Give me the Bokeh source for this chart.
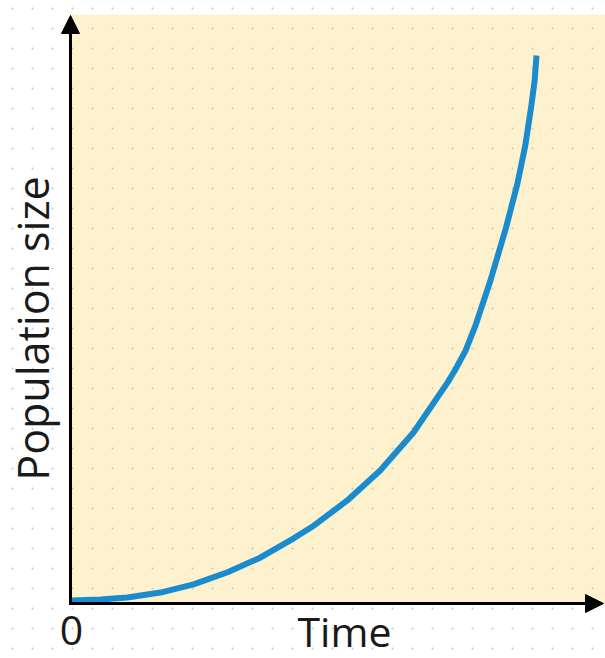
import numpy as np
from bokeh.plotting import figure
from bokeh.models import Range1d, BoxAnnotation, Arrow, NormalHead, Label
from bokeh.embed import file_html
from bokeh.resources import INLINE

# Data (arbitrary units, no tick values shown)
time = [0.02, 0.64, 1.22, 1.93, 2.64, 3.37, 4.08, 4.79, 5.22, 5.94, 6.65,
        7.36, 8.09, 8.26, 8.48, 8.69, 9.01, 9.34, 9.59, 9.76, 9.89, 9.96, 10.0]
population = [0.55, 0.73, 1.1, 2.0, 3.5, 5.7, 8.4, 11.9, 14.2, 18.8, 24.3,
              31.2, 40.3, 42.7, 46.2, 50.7, 58.9, 68.4, 76.6, 83.6, 90.9,
              95.4, 100.0]
x_label = "Time"
y_label = "Population size"
origin_label = "0"

W, H = 605, 658
OFF = 0                   # figure offset on the photographed picture
OX, OY = 70, 603          # origin of axes (picture pixels)
SX, SY = 46.6, 5.48       # pixels per data unit


def tx(px):
    return (px - OX) / SX


def ty(py):
    return (OY - py) / SY


p = figure(width=W, height=H, output_backend="svg", toolbar_location=None,
           x_axis_type=None, y_axis_type=None,
           x_range=Range1d(tx(OFF), tx(OFF + W)), y_range=Range1d(ty(OFF + H), ty(OFF)),
           min_border=0, min_border_left=0, min_border_right=0,
           min_border_top=0, min_border_bottom=0)
p.outline_line_color = None
p.grid.visible = False
p.background_fill_color = "white"
p.border_fill_color = "white"

# cream panel
p.add_layout(BoxAnnotation(left=0, bottom=0, top=ty(14), fill_color="#fdf2cd",
                           fill_alpha=1.0, line_color=None, level="underlay"))

# faint dot texture
gx, gy = np.meshgrid(np.arange(12, 606, 20), np.arange(8, 659, 20))
p.scatter(tx(gx.ravel()), ty(gy.ravel()), size=2, color="#c4c4c4",
          line_color=None)

# curve
p.line(time, population, line_color="#1a8bcd", line_width=6,
       line_join="round", line_cap="butt")

# axes with arrows
p.add_layout(Arrow(x_start=0, y_start=ty(604.5), x_end=0, y_end=ty(15),
                   line_color="black", line_width=3,
                   end=NormalHead(size=18, fill_color="black", line_color="black")))
p.add_layout(Arrow(x_start=tx(68.5), y_start=0, x_end=tx(603), y_end=0,
                   line_color="black", line_width=3,
                   end=NormalHead(size=18, fill_color="black", line_color="black")))

font = "Open Sans"
p.add_layout(Label(x=tx(71), y=ty(630), text=origin_label,
                   text_align="center", text_baseline="middle",
                   text_font=font, text_font_size="41px", text_color="#1a1a1a"))
p.add_layout(Label(x=tx(297), y=ty(630), text=x_label,
                   text_align="left", text_baseline="middle",
                   text_font=font, text_font_size="41px", text_color="#1a1a1a"))
p.add_layout(Label(x=tx(32), y=ty(328), text=y_label, angle=np.pi / 2,
                   text_align="center", text_baseline="middle",
                   text_font=font, text_font_size="43px", text_color="#1a1a1a"))

open("out.html", "w").write(file_html(p, INLINE))
